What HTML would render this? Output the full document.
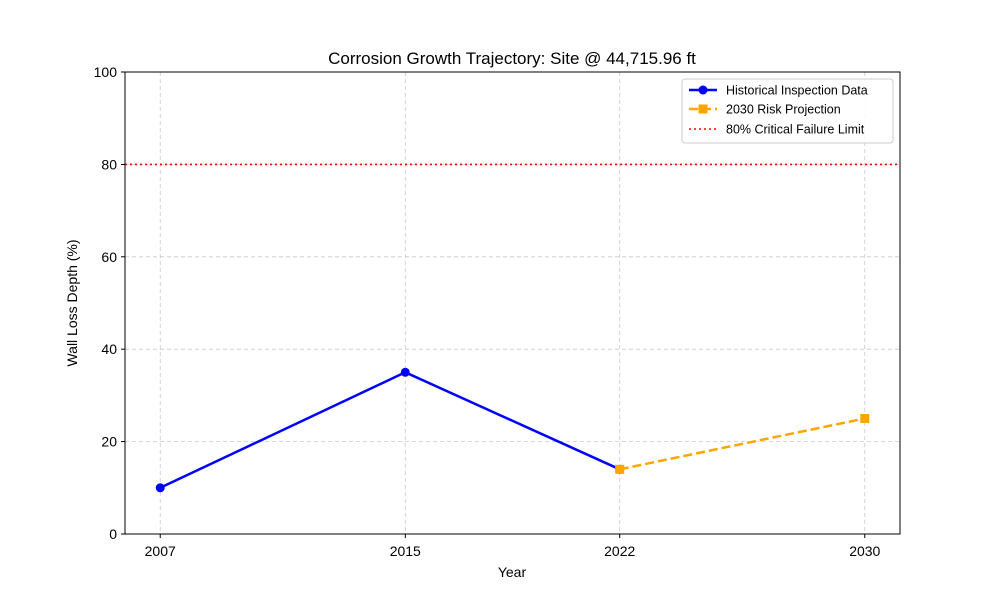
<!DOCTYPE html>
<html><head><meta charset="utf-8"><style>
body{margin:0;background:#fff;font-family:"Liberation Sans",sans-serif;}
svg text{font-family:"Liberation Sans",sans-serif;fill:#000;}
</style></head><body>
<svg id="chart" width="1000" height="600"></svg>
<script>
const years=[2007,2015,2022,2030];
const histYears=[2007,2015,2022];
const histValues=[10,35,14];
const projYears=[2022,2030];
const projValues=[14,25];
const yTicks=[0,20,40,60,80,100];
const xTickLabels=["2007","2015","2022","2030"];
const limitValue=80;

const L=125,R=900,T=72,B=534;
const xMin=2005.85,xMax=2031.15,yMin=0,yMax=100;
const xs=v=>L+(v-xMin)/(xMax-xMin)*(R-L);
const ys=v=>B-(v-yMin)/(yMax-yMin)*(B-T);
const svg=document.getElementById('chart');
const NS='http://www.w3.org/2000/svg';
function mk(tag,attrs,parent){const e=document.createElementNS(NS,tag);for(const k in attrs)e.setAttribute(k,attrs[k]);(parent||svg).appendChild(e);return e;}

// grid
yTicks.forEach(v=>{
 const g=mk('line',{x1:L,x2:R,y1:ys(v),y2:ys(v),stroke:'#b0b0b0','stroke-width':0.8,'stroke-dasharray':'4,3','stroke-opacity':0.7});
 
 
 const t=mk('line',{x1:L-4,x2:L,y1:ys(v),y2:ys(v),stroke:'#000'});
 
 
 const tx=mk('text',{x:L-8,y:ys(v)+5,'text-anchor':'end','font-size':14});
 tx.textContent=v;
 
 
});
years.forEach((v,i)=>{
 const g=mk('line',{x1:xs(v),x2:xs(v),y1:T,y2:B,stroke:'#b0b0b0','stroke-width':0.8,'stroke-dasharray':'4,3','stroke-opacity':0.7});
 
 
 const t=mk('line',{x1:xs(v),x2:xs(v),y1:B,y2:B+4,stroke:'#000'});
 
 
 const tx=mk('text',{x:xs(v),y:B+22,'text-anchor':'middle','font-size':14});
 tx.textContent=xTickLabels[i];
 
 
});

// limit line
const lim=mk('line',{x1:L,x2:R,y1:ys(limitValue),y2:ys(limitValue),stroke:'red','stroke-width':1.6,'stroke-dasharray':'2,3'});



// historical
const hp=mk('polyline',{points:histYears.map((y,i)=>xs(y)+','+ys(histValues[i])).join(' '),fill:'none',stroke:'blue','stroke-width':2.5});


histYears.forEach((y,i)=>{
 const c=mk('circle',{cx:xs(y),cy:ys(histValues[i]),r:4.5,fill:'blue'});
 
 
});
// projection
const pp=mk('polyline',{points:projYears.map((y,i)=>xs(y)+','+ys(projValues[i])).join(' '),fill:'none',stroke:'orange','stroke-width':2.5,'stroke-dasharray':'9,4'});


projYears.forEach((y,i)=>{
 const s=mk('rect',{x:xs(y)-4.5,y:ys(projValues[i])-4.5,width:9,height:9,fill:'orange'});
 
 
});

// frame
const fr=mk('rect',{x:L,y:T,width:R-L,height:B-T,fill:'none',stroke:'#000','stroke-width':1});


</script>
<svg width="1000" height="600" style="position:absolute;left:0;top:0">
<text x="512" y="64" text-anchor="middle" font-size="17">Corrosion Growth Trajectory: Site @ 44,715.96 ft</text>
<text x="512" y="577" text-anchor="middle" font-size="14">Year</text>
<text x="0" y="0" transform="translate(77,303) rotate(-90)" text-anchor="middle" font-size="14">Wall Loss Depth (%)</text>
<g>
<rect x="682" y="79" width="211" height="64" rx="3" fill="#fff" fill-opacity="0.85" stroke="#ccc"/>
<g>
<line x1="689" x2="717" y1="90" y2="90" stroke="blue" stroke-width="2.5"/><circle cx="703" cy="90" r="4.5" fill="blue"/>
<text x="726" y="94.5" font-size="12.5">Historical Inspection Data</text></g>
<g>
<line x1="689" x2="717" y1="109" y2="109" stroke="orange" stroke-width="2.5" stroke-dasharray="9,4"/><rect x="698.5" y="104.5" width="9" height="9" fill="orange"/>
<text x="726" y="113.5" font-size="12.5">2030 Risk Projection</text></g>
<g>
<line x1="689" x2="717" y1="129" y2="129" stroke="red" stroke-width="1.6" stroke-dasharray="2,3"/>
<text x="726" y="133.5" font-size="12.5">80% Critical Failure Limit</text></g>
</g>
</svg>
</body></html>
